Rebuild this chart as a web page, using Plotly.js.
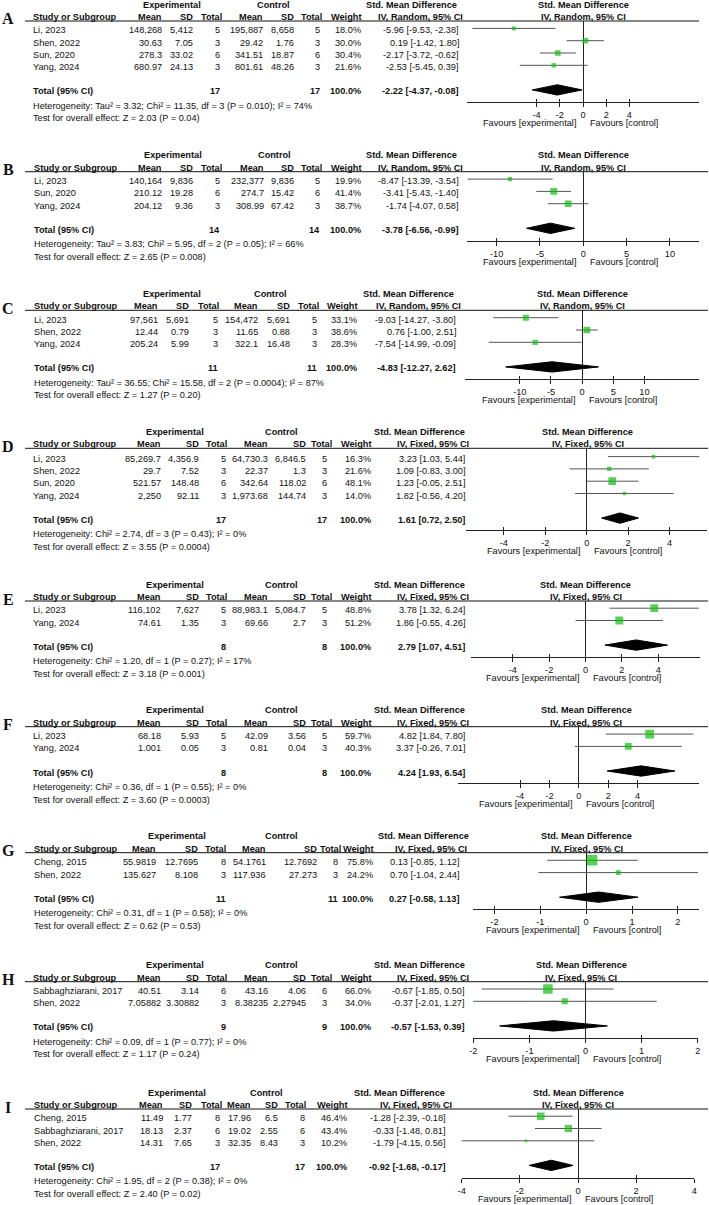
<!DOCTYPE html>
<html><head><meta charset="utf-8">
<script src="https://cdn.plot.ly/plotly-3.0.1.min.js"></script>
<style>html,body{margin:0;padding:0;background:#fff}#chart{width:709px;height:1205px}</style>
</head><body><div id="chart"></div>
<script>
// ---------------- DATA ----------------
const A_study = ['Li, 2023','Shen, 2022','Sun, 2020','Yang, 2024'];
const A_eMean = [148268, 30.63, 278.3, 680.97];
const A_eSD = [5412, 7.05, 33.02, 24.13];
const A_eN = [5, 3, 6, 3];
const A_cMean = [195887, 29.42, 341.51, 801.61];
const A_cSD = [8658, 1.76, 18.87, 48.26];
const A_cN = [5, 3, 6, 3];
const A_weight = [18.0, 30.0, 30.4, 21.6];
const A_smd = [-5.96, 0.19, -2.17, -2.53];
const A_lo = [-9.53, -1.42, -3.72, -5.45];
const A_hi = [-2.38, 1.80, -0.62, 0.39];
const A_total = [-2.22, -4.37, -0.08];
const A_model = 'Random';
const A_het = 'Heterogeneity: Tau² = 3.32; Chi² = 11.35, df = 3 (P = 0.010); I² = 74%';
const A_test = 'Test for overall effect: Z = 2.03 (P = 0.04)';
const A_ticks = [-4, -2, 0, 2, 4];

const B_study = ['Li, 2023','Sun, 2020','Yang, 2024'];
const B_eMean = [140164, 210.12, 204.12];
const B_eSD = [9836, 19.28, 9.36];
const B_eN = [5, 6, 3];
const B_cMean = [232377, 274.7, 308.99];
const B_cSD = [9836, 15.42, 67.42];
const B_cN = [5, 6, 3];
const B_weight = [19.9, 41.4, 38.7];
const B_smd = [-8.47, -3.41, -1.74];
const B_lo = [-13.39, -5.43, -4.07];
const B_hi = [-3.54, -1.40, 0.58];
const B_total = [-3.78, -6.56, -0.99];
const B_model = 'Random';
const B_het = 'Heterogeneity: Tau² = 3.83; Chi² = 5.95, df = 2 (P = 0.05); I² = 66%';
const B_test = 'Test for overall effect: Z = 2.65 (P = 0.008)';
const B_ticks = [-10, -5, 0, 5, 10];

const C_study = ['Li, 2023','Shen, 2022','Yang, 2024'];
const C_eMean = [97561, 12.44, 205.24];
const C_eSD = [5691, 0.79, 5.99];
const C_eN = [5, 3, 3];
const C_cMean = [154472, 11.65, 322.1];
const C_cSD = [5691, 0.88, 16.48];
const C_cN = [5, 3, 3];
const C_weight = [33.1, 38.6, 28.3];
const C_smd = [-9.03, 0.76, -7.54];
const C_lo = [-14.27, -1.00, -14.99];
const C_hi = [-3.80, 2.51, -0.09];
const C_total = [-4.83, -12.27, 2.62];
const C_model = 'Random';
const C_het = 'Heterogeneity: Tau² = 36.55; Chi² = 15.58, df = 2 (P = 0.0004); I² = 87%';
const C_test = 'Test for overall effect: Z = 1.27 (P = 0.20)';
const C_ticks = [-10, -5, 0, 5, 10];

const D_study = ['Li, 2023','Shen, 2022','Sun, 2020','Yang, 2024'];
const D_eMean = [85269.7, 29.7, 521.57, 2250];
const D_eSD = [4356.9, 7.52, 148.48, 92.11];
const D_eN = [5, 3, 6, 3];
const D_cMean = [64730.3, 22.37, 342.64, 1973.68];
const D_cSD = [6846.5, 1.3, 118.02, 144.74];
const D_cN = [5, 3, 6, 3];
const D_weight = [16.3, 21.6, 48.1, 14.0];
const D_smd = [3.23, 1.09, 1.23, 1.82];
const D_lo = [1.03, -0.83, -0.05, -0.56];
const D_hi = [5.44, 3.00, 2.51, 4.20];
const D_total = [1.61, 0.72, 2.50];
const D_model = 'Fixed';
const D_het = 'Heterogeneity: Chi² = 2.74, df = 3 (P = 0.43); I² = 0%';
const D_test = 'Test for overall effect: Z = 3.55 (P = 0.0004)';
const D_ticks = [-4, -2, 0, 2, 4];

const E_study = ['Li, 2023','Yang, 2024'];
const E_eMean = [116102, 74.61];
const E_eSD = [7627, 1.35];
const E_eN = [5, 3];
const E_cMean = [88983.1, 69.66];
const E_cSD = [5084.7, 2.7];
const E_cN = [5, 3];
const E_weight = [48.8, 51.2];
const E_smd = [3.78, 1.86];
const E_lo = [1.32, -0.55];
const E_hi = [6.24, 4.26];
const E_total = [2.79, 1.07, 4.51];
const E_model = 'Fixed';
const E_het = 'Heterogeneity: Chi² = 1.20, df = 1 (P = 0.27); I² = 17%';
const E_test = 'Test for overall effect: Z = 3.18 (P = 0.001)';
const E_ticks = [-4, -2, 0, 2, 4];

const F_study = ['Li, 2023','Yang, 2024'];
const F_eMean = [68.18, 1.001];
const F_eSD = [5.93, 0.05];
const F_eN = [5, 3];
const F_cMean = [42.09, 0.81];
const F_cSD = [3.56, 0.04];
const F_cN = [5, 3];
const F_weight = [59.7, 40.3];
const F_smd = [4.82, 3.37];
const F_lo = [1.84, -0.26];
const F_hi = [7.80, 7.01];
const F_total = [4.24, 1.93, 6.54];
const F_model = 'Fixed';
const F_het = 'Heterogeneity: Chi² = 0.36, df = 1 (P = 0.55); I² = 0%';
const F_test = 'Test for overall effect: Z = 3.60 (P = 0.0003)';
const F_ticks = [-4, -2, 0, 2, 4];

const G_study = ['Cheng, 2015','Shen, 2022'];
const G_eMean = [55.9819, 135.627];
const G_eSD = [12.7695, 8.108];
const G_eN = [8, 3];
const G_cMean = [54.1761, 117.936];
const G_cSD = [12.7692, 27.273];
const G_cN = [8, 3];
const G_weight = [75.8, 24.2];
const G_smd = [0.13, 0.70];
const G_lo = [-0.85, -1.04];
const G_hi = [1.12, 2.44];
const G_total = [0.27, -0.58, 1.13];
const G_model = 'Fixed';
const G_het = 'Heterogeneity: Chi² = 0.31, df = 1 (P = 0.58); I² = 0%';
const G_test = 'Test for overall effect: Z = 0.62 (P = 0.53)';
const G_ticks = [-2, -1, 0, 1, 2];

const H_study = ['Sabbaghziarani, 2017','Shen, 2022'];
const H_eMean = [40.51, 7.05882];
const H_eSD = [3.14, 3.30882];
const H_eN = [6, 3];
const H_cMean = [43.16, 8.38235];
const H_cSD = [4.06, 2.27945];
const H_cN = [6, 3];
const H_weight = [66.0, 34.0];
const H_smd = [-0.67, -0.37];
const H_lo = [-1.85, -2.01];
const H_hi = [0.50, 1.27];
const H_total = [-0.57, -1.53, 0.39];
const H_model = 'Fixed';
const H_het = 'Heterogeneity: Chi² = 0.09, df = 1 (P = 0.77); I² = 0%';
const H_test = 'Test for overall effect: Z = 1.17 (P = 0.24)';
const H_ticks = [-2, -1, 0, 1, 2];

const I_study = ['Cheng, 2015','Sabbaghziarani, 2017','Shen, 2022'];
const I_eMean = [11.49, 18.13, 14.31];
const I_eSD = [1.77, 2.37, 7.65];
const I_eN = [8, 6, 3];
const I_cMean = [17.96, 19.02, 32.35];
const I_cSD = [6.5, 2.55, 8.43];
const I_cN = [8, 6, 3];
const I_weight = [46.4, 43.4, 10.2];
const I_smd = [-1.28, -0.33, -1.79];
const I_lo = [-2.39, -1.48, -4.15];
const I_hi = [-0.18, 0.81, 0.56];
const I_total = [-0.92, -1.68, -0.17];
const I_model = 'Fixed';
const I_het = 'Heterogeneity: Chi² = 1.95, df = 2 (P = 0.38); I² = 0%';
const I_test = 'Test for overall effect: Z = 2.40 (P = 0.02)';
const I_ticks = [-4, -2, 0, 2, 4];

// ---------------- LAYOUT GEOMETRY (pixels) ----------------
// c = [study, expMean, expSD, expN, ctlMean, ctlSD, ctlN, weight, CI] (right edges except study)
// hd = header right edges for [ctlSD, expN, ctlN, weight]
const geoA = {L:21, first:7.4, lineEnd:699, c:[32,163,194,221,264,295,321,362,460], hN:[223,323], iv:464, expC:172, ctlC:273, smdC:411, dom:[467,699], rng:[-10,10], ph:583};
const geoB = {L:171.7, first:7.4, lineEnd:708, c:[33,163,194,221,265,295,321,362,460], hN:[223,323], iv:464, expC:173, ctlC:274, smdC:411.5, dom:[467.3,699.3], rng:[-13.39,13.39], ph:583};
const geoC = {L:310.3, first:7.4, lineEnd:708, c:[33,159,190,219,259,291,318,358,457], hN:[219.5,320], iv:462, expC:172, ctlC:270.5, smdC:408.5, dom:[465,699.3], rng:[-18.8,18.8], ph:582.5};
const geoD = {L:448.3, first:8.3, lineEnd:708, c:[32,162,200,227,269,307,328,372,466], hN:[228,333], iv:470, expC:175, ctlC:281.5, smdC:419.5, dom:[466.4,707], rng:[-5.81,5.81], ph:587.5};
const geoE = {L:601, first:7.2, lineEnd:708, c:[32,162,200,227,269,307,328,372,466], hN:[228,333], iv:470, expC:175, ctlC:281.5, smdC:419.5, dom:[471,700], rng:[-6.3,6.3], ph:585.7};
const geoF = {L:726.7, first:7.4, lineEnd:708, c:[32,162,200,227,269,307,328,372,466], hN:[228,333], iv:470, expC:175, ctlC:281.5, smdC:419.5, dom:[458.3,699.3], rng:[-8.2,8.2], ph:586};
const geoG = {L:852.7, first:7.6, lineEnd:708, c:[33,157,199,227,267,318,339,374,460], hN:[227,342], iv:468, expC:177, ctlC:281.5, smdC:423, dom:[473.3,699], rng:[-2.46,2.46], ph:586.5};
const geoH = {L:981.7, first:7.3, lineEnd:708, c:[32,162,200,227,269,307,328,372,466], hN:[228,333], iv:470, expC:175, ctlC:281.5, smdC:419.5, dom:[473.3,697.7], rng:[-2,2], ph:581};
const geoI = {L:1109, first:7.2, lineEnd:708, c:[33,164,193,221,252,279,306,348,447], hN:[223,307], iv:453, expC:177, ctlC:266, smdC:399, dom:[461.7,694.3], rng:[-4,4], ph:578};

const panels = [
 {id:'A', geo:geoA, study:A_study, eMean:A_eMean, eSD:A_eSD, eN:A_eN, cMean:A_cMean, cSD:A_cSD, cN:A_cN, w:A_weight, smd:A_smd, lo:A_lo, hi:A_hi, tot:A_total, model:A_model, het:A_het, test:A_test, ticks:A_ticks},
 {id:'B', geo:geoB, study:B_study, eMean:B_eMean, eSD:B_eSD, eN:B_eN, cMean:B_cMean, cSD:B_cSD, cN:B_cN, w:B_weight, smd:B_smd, lo:B_lo, hi:B_hi, tot:B_total, model:B_model, het:B_het, test:B_test, ticks:B_ticks},
 {id:'C', geo:geoC, study:C_study, eMean:C_eMean, eSD:C_eSD, eN:C_eN, cMean:C_cMean, cSD:C_cSD, cN:C_cN, w:C_weight, smd:C_smd, lo:C_lo, hi:C_hi, tot:C_total, model:C_model, het:C_het, test:C_test, ticks:C_ticks},
 {id:'D', geo:geoD, study:D_study, eMean:D_eMean, eSD:D_eSD, eN:D_eN, cMean:D_cMean, cSD:D_cSD, cN:D_cN, w:D_weight, smd:D_smd, lo:D_lo, hi:D_hi, tot:D_total, model:D_model, het:D_het, test:D_test, ticks:D_ticks},
 {id:'E', geo:geoE, study:E_study, eMean:E_eMean, eSD:E_eSD, eN:E_eN, cMean:E_cMean, cSD:E_cSD, cN:E_cN, w:E_weight, smd:E_smd, lo:E_lo, hi:E_hi, tot:E_total, model:E_model, het:E_het, test:E_test, ticks:E_ticks},
 {id:'F', geo:geoF, study:F_study, eMean:F_eMean, eSD:F_eSD, eN:F_eN, cMean:F_cMean, cSD:F_cSD, cN:F_cN, w:F_weight, smd:F_smd, lo:F_lo, hi:F_hi, tot:F_total, model:F_model, het:F_het, test:F_test, ticks:F_ticks},
 {id:'G', geo:geoG, study:G_study, eMean:G_eMean, eSD:G_eSD, eN:G_eN, cMean:G_cMean, cSD:G_cSD, cN:G_cN, w:G_weight, smd:G_smd, lo:G_lo, hi:G_hi, tot:G_total, model:G_model, het:G_het, test:G_test, ticks:G_ticks},
 {id:'H', geo:geoH, study:H_study, eMean:H_eMean, eSD:H_eSD, eN:H_eN, cMean:H_cMean, cSD:H_cSD, cN:H_cN, w:H_weight, smd:H_smd, lo:H_lo, hi:H_hi, tot:H_total, model:H_model, het:H_het, test:H_test, ticks:H_ticks},
 {id:'I', geo:geoI, study:I_study, eMean:I_eMean, eSD:I_eSD, eN:I_eN, cMean:I_cMean, cSD:I_cSD, cN:I_cN, w:I_weight, smd:I_smd, lo:I_lo, hi:I_hi, tot:I_total, model:I_model, het:I_het, test:I_test, ticks:I_ticks}
];

// ---------------- BUILD ----------------
const W = 709, H = 1205;
const FONT = 'Liberation Sans, Arial, sans-serif';
const FS = 9.2;
const TXT = '#111';
const ROW = 12.3;       // row pitch (px)
const BELOW = 12.2;     // total row -> axis (px)
const TXTOFF = 2.0;     // text offset relative to marker row (px)
const px = x => x / W;
const py = y => 1 - y / H;
const fmt = v => { const s = String(v); const p = s.split('.'); return p[0].replace(/\B(?=(\d{3})+(?!\d))/g, ',') + (p.length > 1 ? '.' + p[1] : ''); };
const ciTxt = (e, l, h) => e.toFixed(2) + ' [' + l.toFixed(2) + ', ' + h.toFixed(2) + ']';
const sum = a => a.reduce((s, v) => s + v, 0);
const sqSize = w => 0.55 * Math.pow(w, 0.68);

const traces = [], annotations = [], shapes = [];
const layout = {
  width: W, height: H, margin: {l:0, r:0, t:0, b:0},
  paper_bgcolor: '#fff', plot_bgcolor: 'rgba(0,0,0,0)', showlegend: false,
  font: {family: FONT, size: FS, color: TXT}
};

function txt(text, x, y, anchor, opts) {
  opts = opts || {};
  annotations.push({
    text: text, x: px(x), y: py(y), xref: 'paper', yref: 'paper',
    xanchor: anchor, yanchor: 'middle', showarrow: false,
    font: {family: opts.family || FONT, size: opts.size || FS, color: TXT},
    borderpad: 0
  });
}

panels.forEach((p, i) => {
  const k = i + 1, ko = i + 10;
  const xa = 'xaxis' + (k === 1 ? '' : k), ya = 'yaxis' + (k === 1 ? '' : k), xo = 'xaxis' + ko;
  const xr = 'x' + (k === 1 ? '' : k), yr = 'y' + (k === 1 ? '' : k), xor = 'x' + ko;
  const g = p.geo, n = p.study.length;
  const L = g.L, FIRST = g.first, R0 = L + FIRST, tIdx = n + 1, Rt = R0 + ROW * tIdx, Ya = Rt + BELOW;
  const rowPx = j => R0 + ROW * j;

  // axes
  const tickText = p.ticks.map(v => String(v));
  layout[xa] = {
    domain: [px(g.dom[0]), px(g.dom[1])], range: g.rng, autorange: false, anchor: yr,
    tickmode: 'array', tickvals: p.ticks, ticktext: tickText,
    ticks: 'outside', ticklen: 4, tickwidth: 1, tickcolor: '#222',
    showline: true, linecolor: '#222', linewidth: 1,
    zeroline: true, zerolinecolor: '#222', zerolinewidth: 1,
    showgrid: false, fixedrange: true,
    tickfont: {family: FONT, size: FS, color: TXT}
  };
  layout[xo] = {
    overlaying: xr, anchor: yr, range: g.rng, autorange: false,
    tickmode: 'array', tickvals: p.ticks, ticks: 'inside', ticklen: 3, tickwidth: 1, tickcolor: '#222',
    showticklabels: false, showline: false, zeroline: false, showgrid: false, fixedrange: true
  };
  layout[ya] = {
    domain: [py(Ya), py(L)], range: [tIdx + BELOW / ROW, -FIRST / ROW], autorange: false,
    visible: false, fixedrange: true
  };

  // CI lines
  const cx = [], cy = [];
  p.lo.forEach((l, j) => { cx.push(l, p.hi[j], null); cy.push(j, j, null); });
  traces.push({type: 'scatter', mode: 'lines', x: cx, y: cy, xaxis: xr, yaxis: yr,
    line: {color: '#555', width: 1}, hoverinfo: 'skip'});
  // squares
  traces.push({type: 'scatter', mode: 'markers', x: p.smd, y: p.smd.map((v, j) => j), xaxis: xor, yaxis: yr,
    marker: {symbol: 'square', color: '#0fbf0f', size: p.w.map(sqSize), line: {width: 0}},
    hoverinfo: 'skip'});
  // diamond
  const hh = 0.42;
  traces.push({type: 'scatter', mode: 'lines', fill: 'toself', fillcolor: '#000',
    x: [p.tot[1], p.tot[0], p.tot[2], p.tot[0], p.tot[1]],
    y: [tIdx, tIdx - hh, tIdx, tIdx + hh, tIdx], xaxis: xor, yaxis: yr,
    line: {color: '#000', width: 1}, hoverinfo: 'skip'});

  // header line
  shapes.push({type: 'line', xref: 'paper', yref: 'paper', x0: px(25), x1: px(g.lineEnd), y0: py(L), y1: py(L),
    line: {color: '#111', width: 1}});

  // panel letter
  txt('<b>' + p.id + '</b>', 8, L - 2, 'center', {family: 'Liberation Serif, Times New Roman, serif', size: 16});

  // headers
  const h1 = L - 16.4, h2 = L - 4;
  txt('<b>Experimental</b>', g.expC, h1, 'center');
  txt('<b>Control</b>', g.ctlC, h1, 'center');
  txt('<b>Std. Mean Difference</b>', g.smdC, h1, 'center');
  txt('<b>Std. Mean Difference</b>', g.ph, h1, 'center');
  txt('<b>Study or Subgroup</b>', g.c[0], h2, 'left');
  txt('<b>Mean</b>', g.c[1], h2, 'right');
  txt('<b>SD</b>', g.c[2], h2, 'right');
  txt('<b>Total</b>', g.hN[0], h2, 'right');
  txt('<b>Mean</b>', g.c[4], h2, 'right');
  txt('<b>SD</b>', g.c[5], h2, 'right');
  txt('<b>Total</b>', g.hN[1], h2, 'right');
  txt('<b>Weight</b>', g.c[7], h2, 'right');
  txt('<b>IV, ' + p.model + ', 95% CI</b>', g.iv, h2, 'right');
  txt('<b>IV, ' + p.model + ', 95% CI</b>', g.ph, h2, 'center');

  // rows
  p.study.forEach((s, j) => {
    const y = rowPx(j) + TXTOFF;
    txt(s, g.c[0], y, 'left');
    txt(fmt(p.eMean[j]), g.c[1], y, 'right');
    txt(fmt(p.eSD[j]), g.c[2], y, 'right');
    txt(String(p.eN[j]), g.c[3], y, 'right');
    txt(fmt(p.cMean[j]), g.c[4], y, 'right');
    txt(fmt(p.cSD[j]), g.c[5], y, 'right');
    txt(String(p.cN[j]), g.c[6], y, 'right');
    txt(p.w[j].toFixed(1) + '%', g.c[7], y, 'right');
    txt(ciTxt(p.smd[j], p.lo[j], p.hi[j]), g.c[8], y, 'right');
  });

  // total row
  const yt = Rt + TXTOFF - 0.5;
  txt('<b>Total (95% CI)</b>', g.c[0], yt, 'left');
  txt('<b>' + sum(p.eN) + '</b>', g.c[3], yt, 'right');
  txt('<b>' + sum(p.cN) + '</b>', g.c[6], yt, 'right');
  txt('<b>' + sum(p.w).toFixed(1) + '%</b>', g.c[7], yt, 'right');
  txt('<b>' + ciTxt(p.tot[0], p.tot[1], p.tot[2]) + '</b>', g.c[8], yt, 'right');
  txt(p.het, g.c[0], yt + 14.2, 'left');
  txt(p.test, g.c[0], yt + 27, 'left');

  // favours
  annotations.push({text: 'Favours [experimental]', x: 0, xref: xr, xshift: -5, y: py(Ya + 21), yref: 'paper',
    xanchor: 'right', yanchor: 'middle', showarrow: false, font: {family: FONT, size: FS, color: TXT}});
  annotations.push({text: 'Favours [control]', x: 0, xref: xr, xshift: 5, y: py(Ya + 21), yref: 'paper',
    xanchor: 'left', yanchor: 'middle', showarrow: false, font: {family: FONT, size: FS, color: TXT}});
});

layout.annotations = annotations;
layout.shapes = shapes;
Plotly.newPlot('chart', traces, layout, {staticPlot: true, displayModeBar: false});
</script>
</body></html>
